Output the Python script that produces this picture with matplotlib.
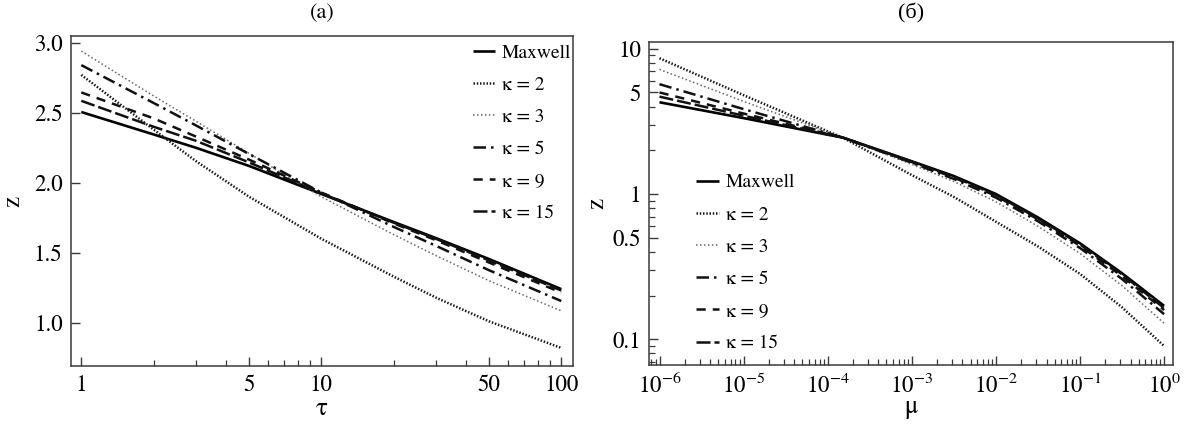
import matplotlib
matplotlib.use('Agg')
import matplotlib.pyplot as plt
from matplotlib.ticker import FixedLocator, FixedFormatter, NullFormatter, LogLocator

plt.rcParams['font.family'] = ['STIXGeneral', 'Liberation Serif', 'DejaVu Serif']
plt.rcParams['mathtext.fontset'] = 'stix'

# ---------------- data: panel (a) ----------------
tau = [1, 2, 3, 5, 10, 20, 30, 50, 100]
za_maxwell = [2.505, 2.345, 2.25, 2.12, 1.92, 1.72, 1.605, 1.455, 1.24]
za_k15 = [2.585, 2.40, 2.30, 2.145, 1.925, 1.715, 1.60, 1.445, 1.23]
za_k9 = [2.645, 2.46, 2.33, 2.165, 1.93, 1.71, 1.59, 1.43, 1.215]
za_k5 = [2.84, 2.57, 2.41, 2.205, 1.93, 1.685, 1.55, 1.375, 1.155]
za_k3 = [2.94, 2.62, 2.44, 2.21, 1.90, 1.63, 1.48, 1.30, 1.085]
za_k2 = [2.77, 2.38, 2.155, 1.90, 1.60, 1.33, 1.18, 1.01, 0.82]

# ---------------- data: panel (b) ----------------
mu = [1e-6, 1e-5, 1e-4, 1.5e-4, 1e-3, 0.00316, 1e-2, 0.0316, 0.1, 0.316, 1.0]
zb_maxwell = [4.28, 3.33, 2.56, 2.45, 1.68, 1.33, 1.00, 0.69, 0.458, 0.285, 0.170]
zb_k15 = [4.68, 3.46, 2.57, 2.45, 1.67, 1.31, 0.985, 0.68, 0.45, 0.28, 0.164]
zb_k9 = [5.0, 3.58, 2.59, 2.45, 1.66, 1.30, 0.97, 0.67, 0.44, 0.272, 0.159]
zb_k5 = [5.7, 3.84, 2.62, 2.45, 1.64, 1.27, 0.945, 0.65, 0.425, 0.26, 0.149]
zb_k3 = [7.2, 4.34, 2.67, 2.45, 1.60, 1.22, 0.885, 0.60, 0.39, 0.234, 0.129]
zb_k2 = [8.6, 4.79, 2.70, 2.45, 1.35, 0.955, 0.645, 0.436, 0.282, 0.166, 0.090]

labels = ['Maxwell', 'κ = 2', 'κ = 3', 'κ = 5', 'κ = 9', 'κ = 15']

styles = [
    dict(color='black', lw=1.9, ls='-'),
    dict(color='#1a1a1a', lw=1.8, ls=(0, (0.6, 0.7))),
    dict(color='#666666', lw=1.1, ls=(0, (1.0, 1.6))),
    dict(color='#111111', lw=1.8, ls=(0, (5, 2, 1, 2))),
    dict(color='#111111', lw=1.8, ls=(0, (3.7, 2.8))),
    dict(color='#111111', lw=1.8, ls=(0, (5.6, 1.6))),
]

W, H = 1189, 426
fig = plt.figure(figsize=(W / 100, H / 100), dpi=100)

axa = fig.add_axes([71 / W, 1 - 366 / H, (573 - 71) / W, (366 - 36) / H])
axb = fig.add_axes([649.3 / W, 1 - 364.5 / H, (1173 - 649.3) / W, (364.5 - 42.3) / H])

spine_color = '#3a3a3a'
for ax in (axa, axb):
    for s in ax.spines.values():
        s.set_color(spine_color)
        s.set_linewidth(1.1)
    ax.tick_params(which='both', direction='in', top=False, right=False,
                   color=spine_color, labelsize=16.5, pad=6)
    ax.tick_params(which='major', length=6.5, width=1.0)
    ax.tick_params(which='minor', length=4, width=0.9,
                   labelbottom=False, labelleft=False)

# ---------- panel (a) ----------
series_a = [za_maxwell, za_k2, za_k3, za_k5, za_k9, za_k15]
for ys, st, lab in zip(series_a, styles, labels):
    axa.plot(tau, ys, label=lab, solid_capstyle='butt', dash_capstyle='butt', **st)
axa.set_xscale('log')
axa.set_xlim(0.906, 111.9)
axa.set_ylim(0.691, 3.048)
axa.xaxis.set_major_locator(FixedLocator([1, 5, 10, 50, 100]))
axa.xaxis.set_major_formatter(FixedFormatter(['1', '5', '10', '50', '100']))
axa.xaxis.set_minor_locator(FixedLocator([2, 3, 4, 6, 7, 8, 9, 20, 30, 40, 60, 70, 80, 90]))
axa.xaxis.set_minor_formatter(NullFormatter())
axa.yaxis.set_major_locator(FixedLocator([1.0, 1.5, 2.0, 2.5, 3.0]))
axa.yaxis.set_major_formatter(FixedFormatter(['1.0', '1.5', '2.0', '2.5', '3.0']))
axa.set_xlabel('τ', fontsize=18, labelpad=1)
axa.set_ylabel('z', fontsize=18, labelpad=6)
axa.legend(loc='upper right', bbox_to_anchor=(1.0, 0.98), frameon=False,
           fontsize=14, handlelength=1.15, handletextpad=0.35, labelspacing=0.74,
           borderpad=0, borderaxespad=0.1)

# ---------- panel (b) ----------
series_b = [zb_maxwell, zb_k2, zb_k3, zb_k5, zb_k9, zb_k15]
for ys, st, lab in zip(series_b, styles, labels):
    axb.plot(mu, ys, label=lab, solid_capstyle='butt', dash_capstyle='butt', **st)
axb.set_xscale('log')
axb.set_yscale('log')
axb.set_xlim(7.56e-7, 1.276)
axb.set_ylim(0.0671, 11.07)
axb.xaxis.set_major_locator(LogLocator(base=10, numticks=20))
axb.xaxis.set_minor_locator(LogLocator(base=10, subs=[2, 3, 4, 5, 6, 7, 8, 9], numticks=40))
axb.xaxis.set_minor_formatter(NullFormatter())
axb.yaxis.set_major_locator(FixedLocator([0.1, 0.5, 1, 5, 10]))
axb.yaxis.set_major_formatter(FixedFormatter(['0.1', '0.5', '1', '5', '10']))
axb.yaxis.set_minor_locator(FixedLocator([0.07, 0.08, 0.09, 0.2, 0.3, 0.4, 0.6, 0.7, 0.8, 0.9,
                                          2, 3, 4, 6, 7, 8, 9]))
axb.yaxis.set_minor_formatter(NullFormatter())
axb.set_xlabel('μ', fontsize=18, labelpad=-2)
axb.set_ylabel('z', fontsize=18, labelpad=2)
axb.legend(loc='upper left', bbox_to_anchor=(0.09, 0.592), frameon=False,
           fontsize=14, handlelength=1.15, handletextpad=0.35, labelspacing=0.75,
           borderpad=0, borderaxespad=0)

fig.text(322 / W, 1 - 13 / H, '(a)', ha='center', va='center', fontsize=16)
fig.text(911 / W, 1 - 13 / H, '(б)', ha='center', va='center', fontsize=16,
         family=['Liberation Serif', 'DejaVu Serif'])

fig.savefig('out.png', dpi=100)
